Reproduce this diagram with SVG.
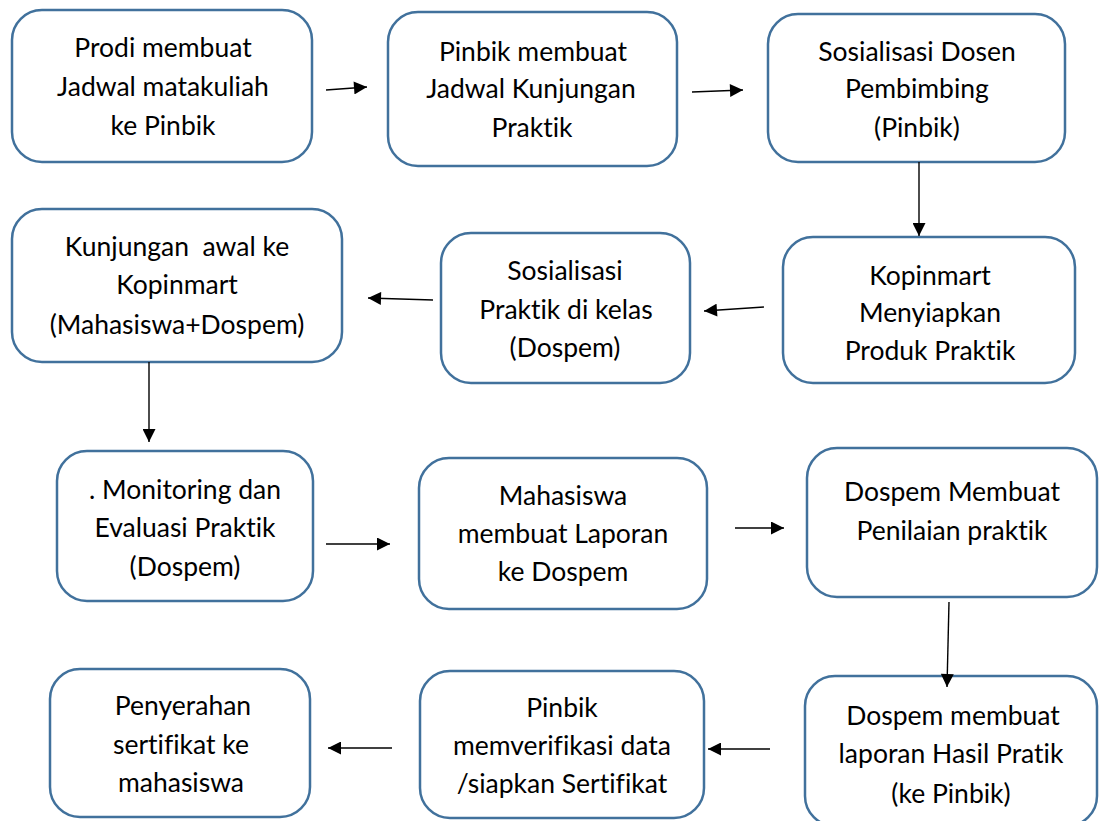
<svg xmlns="http://www.w3.org/2000/svg" width="1100" height="821" viewBox="0 0 1100 821">
<defs>
<marker id="ah" viewBox="0 0 10 10" refX="10" refY="5" markerWidth="14" markerHeight="13" markerUnits="userSpaceOnUse" orient="auto">
<path d="M0,0 L10,5 L0,10 z" fill="#000"/>
</marker>
<style>
.box{fill:#fff;stroke:#41719C;stroke-width:2.5}
.t{font-family:Lato,"Open Sans","Liberation Sans",sans-serif;font-size:26.5px;fill:#000;text-anchor:middle;font-variant-ligatures:none}
.c line{stroke:#000;stroke-width:1.4;marker-end:url(#ah)}
</style>
</defs>
<rect width="1100" height="821" fill="#fff"/>
<g id="n1"><rect class="box" x="12" y="10" width="300" height="152" rx="30"/>
<text class="t" x="163" y="57">Prodi membuat</text><text class="t" x="163" y="96">Jadwal matakuliah</text><text class="t" x="163" y="135">ke Pinbik</text></g>
<g id="n2"><rect class="box" x="388" y="12" width="289" height="154" rx="30"/>
<text class="t" x="533" y="61">Pinbik membuat</text><text class="t" x="531" y="98">Jadwal Kunjungan</text><text class="t" x="532" y="137">Praktik</text></g>
<g id="n3"><rect class="box" x="768" y="14" width="297" height="148" rx="30"/>
<text class="t" x="917" y="61">Sosialisasi Dosen</text><text class="t" x="917" y="98">Pembimbing</text><text class="t" x="917" y="137">(Pinbik)</text></g>
<g id="n4"><rect class="box" x="12" y="209" width="330" height="153" rx="30"/>
<text class="t" x="177" y="256" xml:space="preserve">Kunjungan  awal ke</text><text class="t" x="177" y="294">Kopinmart</text><text class="t" x="177" y="334">(Mahasiswa+Dospem)</text></g>
<g id="n5"><rect class="box" x="441" y="233" width="249" height="150" rx="30"/>
<text class="t" x="565" y="280">Sosialisasi</text><text class="t" x="566" y="319">Praktik di kelas</text><text class="t" x="565" y="357">(Dospem)</text></g>
<g id="n6"><rect class="box" x="783" y="237" width="292" height="146" rx="30"/>
<text class="t" x="930" y="285">Kopinmart</text><text class="t" x="930" y="322">Menyiapkan</text><text class="t" x="930" y="360">Produk Praktik</text></g>
<g id="n7"><rect class="box" x="57" y="451" width="256" height="150" rx="30"/>
<text class="t" x="185" y="499">. Monitoring dan</text><text class="t" x="185" y="537">Evaluasi Praktik</text><text class="t" x="185" y="576">(Dospem)</text></g>
<g id="n8"><rect class="box" x="419" y="458" width="288" height="151" rx="30"/>
<text class="t" x="563" y="505">Mahasiswa</text><text class="t" x="563" y="543">membuat Laporan</text><text class="t" x="563" y="581">ke Dospem</text></g>
<g id="n9"><rect class="box" x="807" y="448" width="290" height="149" rx="30"/>
<text class="t" x="952" y="501">Dospem Membuat</text><text class="t" x="952" y="540">Penilaian praktik</text></g>
<g id="n10"><rect class="box" x="805" y="676" width="292" height="150" rx="30"/>
<text class="t" x="953" y="725">Dospem membuat</text><text class="t" x="951" y="763">laporan Hasil Pratik</text><text class="t" x="951" y="803">(ke Pinbik)</text></g>
<g id="n11"><rect class="box" x="420" y="671" width="284" height="147" rx="30"/>
<text class="t" x="562" y="717">Pinbik</text><text class="t" x="562" y="755">memverifikasi data</text><text class="t" x="562" y="793">/siapkan Sertifikat</text></g>
<g id="n12"><rect class="box" x="50" y="669" width="260" height="148" rx="30"/>
<text class="t" x="183" y="715">Penyerahan</text><text class="t" x="181" y="754">sertifikat ke</text><text class="t" x="181" y="792">mahasiswa</text></g>
<g class="c" id="connectors">
<line x1="326" y1="90" x2="367" y2="87"/>
<line x1="692" y1="92" x2="743" y2="90"/>
<line x1="919" y1="162" x2="919" y2="236"/>
<line x1="764" y1="307" x2="704" y2="311"/>
<line x1="433" y1="300" x2="368" y2="298"/>
<line x1="149" y1="362" x2="149" y2="442"/>
<line x1="326" y1="544" x2="390" y2="544"/>
<line x1="735" y1="528" x2="784" y2="528"/>
<line x1="949" y1="602" x2="947" y2="687"/>
<line x1="770" y1="749" x2="708" y2="749"/>
<line x1="392" y1="748" x2="328" y2="748"/>
</g>
</svg>
